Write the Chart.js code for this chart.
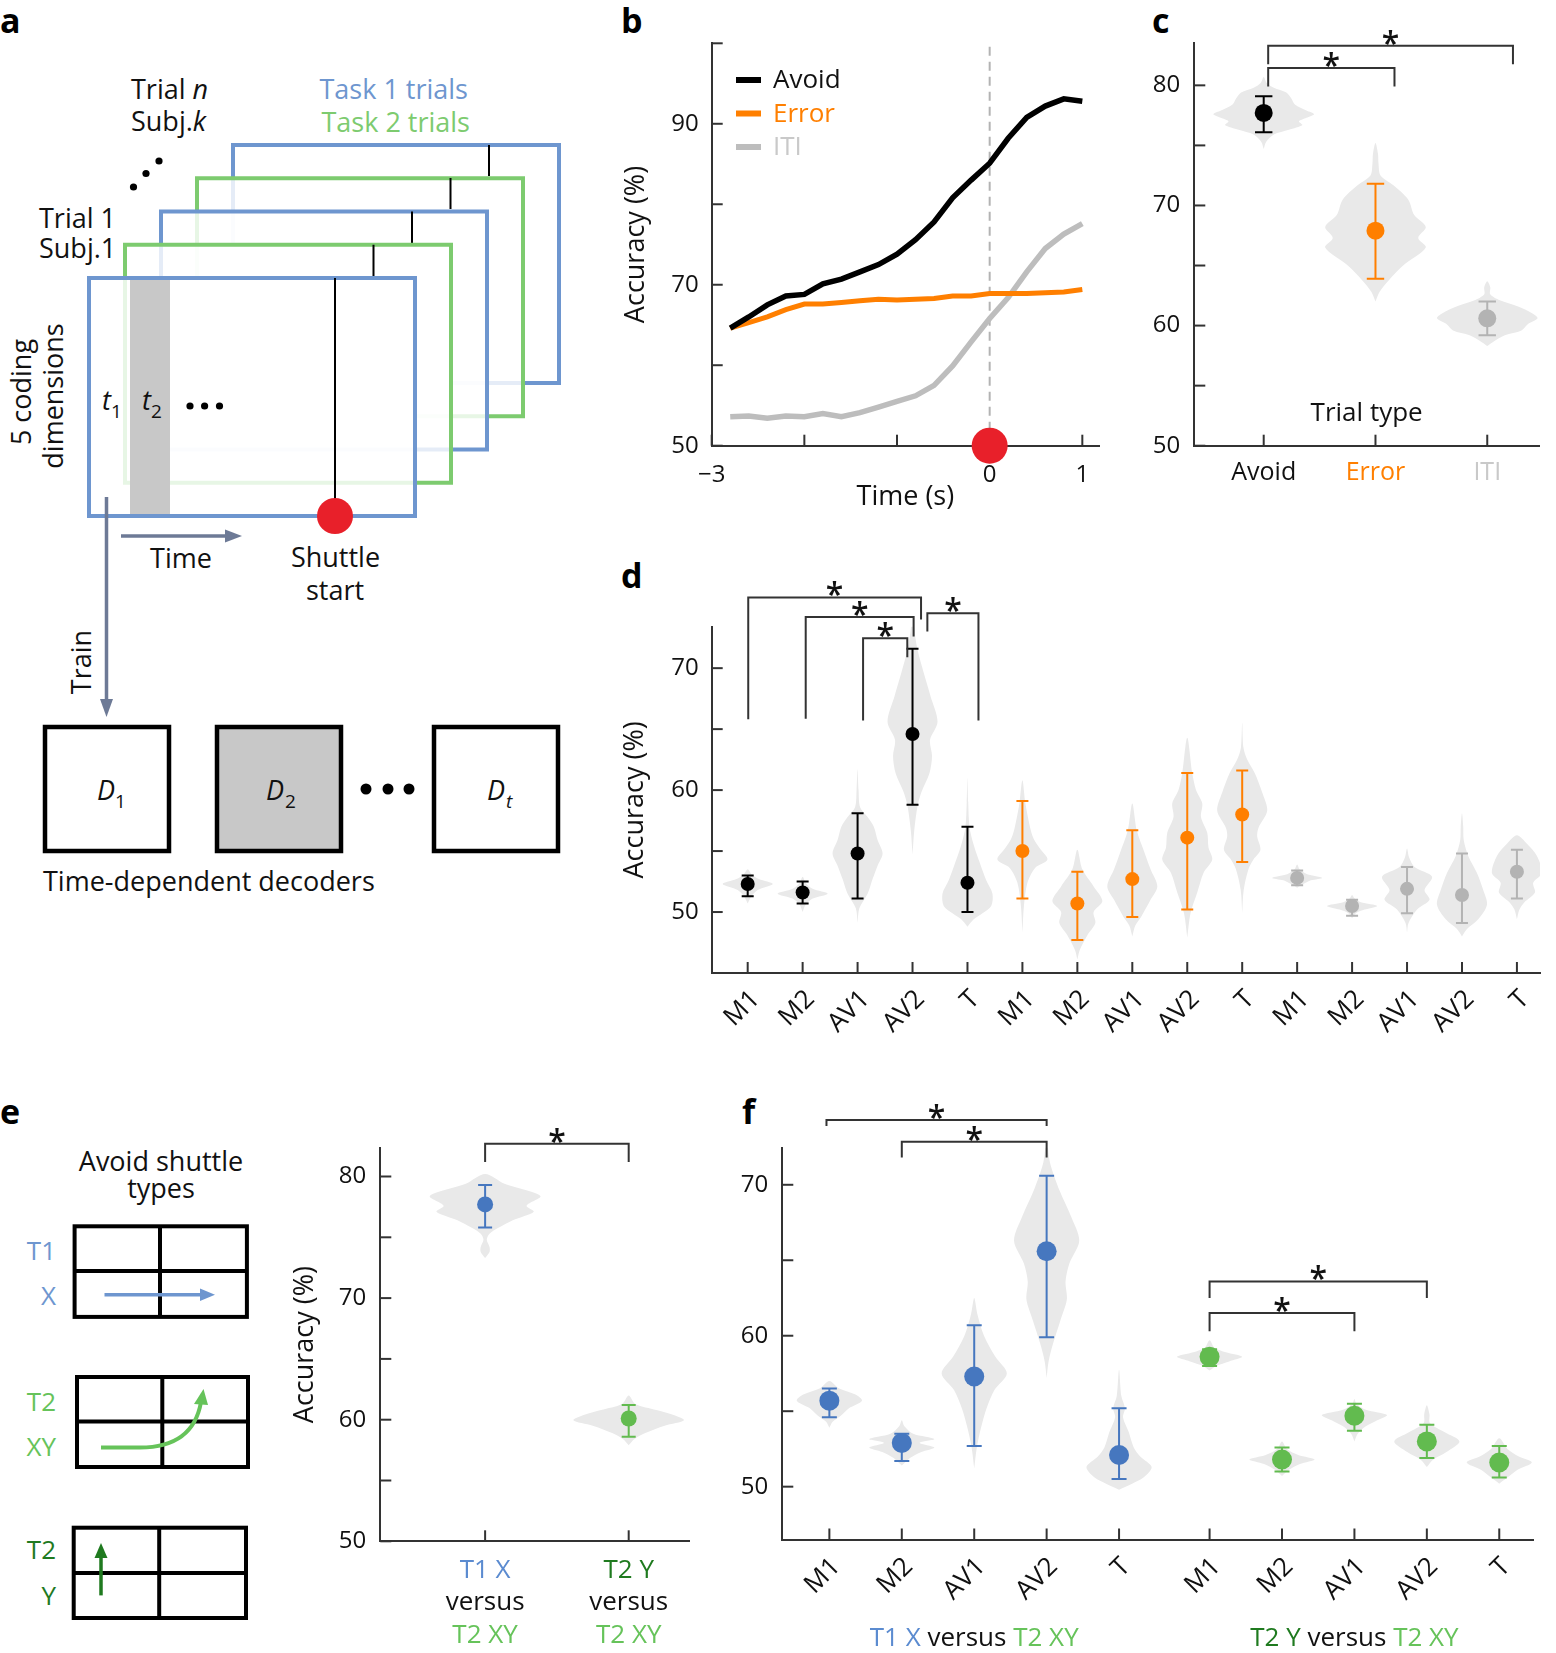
<!DOCTYPE html>
<html><head><meta charset="utf-8">
<script src="https://cdn.jsdelivr.net/npm/chart.js@4"></script>
<style>
html,body{margin:0;padding:0;background:#fff;}
#page{position:relative;width:1556px;height:1653px;overflow:hidden;background:#fff;}
canvas{position:absolute;}
#diag{position:absolute;left:0;top:0;font-family:'Open Sans',sans-serif;}
</style></head>
<body><div id="page">
<svg id="diag" width="1556" height="1653" xmlns="http://www.w3.org/2000/svg">
 <g font-weight="bold" font-size="34" fill="#000">
  <text x="0" y="33">a</text><text x="621" y="33">b</text><text x="1152" y="33">c</text>
  <text x="621" y="588">d</text><text x="0" y="1124">e</text><text x="742" y="1124">f</text>
 </g>
 <!-- panel a frames, back to front -->
 <g stroke-width="4" fill="rgba(255,255,255,0.82)">
  <rect x="233" y="145" width="326" height="238" stroke="#6e96cf"/>
  <line x1="489" y1="145" x2="489" y2="176" stroke="#000" stroke-width="2"/>
  <rect x="197" y="178.25" width="326" height="238" stroke="#7dcb6f"/>
  <line x1="450.5" y1="178" x2="450.5" y2="209" stroke="#000" stroke-width="2"/>
  <rect x="161" y="211.5" width="326" height="238" stroke="#6e96cf"/>
  <line x1="412" y1="211.5" x2="412" y2="243" stroke="#000" stroke-width="2"/>
  <rect x="125" y="244.75" width="326" height="238" stroke="#7dcb6f"/>
  <line x1="373.5" y1="244.75" x2="373.5" y2="276" stroke="#000" stroke-width="2"/>
  <rect x="89" y="278" width="326" height="238" stroke="#6e96cf"/>
 </g>
 <rect x="130" y="280" width="40" height="234" fill="#c8c8c8"/>
 <line x1="335" y1="278" x2="335" y2="516" stroke="#000" stroke-width="2"/>
 <circle cx="335" cy="516" r="18" fill="#e8202a"/>
 <g font-size="27" fill="#111">
  <text x="102" y="410" font-style="italic">t</text><text x="111" y="418" font-size="19">1</text>
  <text x="142" y="410" font-style="italic">t</text><text x="151" y="418" font-size="19">2</text>
  <text x="131" y="99">Trial <tspan font-style="italic">n</tspan></text>
  <text x="131" y="131">Subj.<tspan font-style="italic">k</tspan></text>
  <text x="39" y="228">Trial 1</text>
  <text x="39" y="258">Subj.1</text>
  <text x="468" y="99" text-anchor="end" fill="#6e96cf">Task 1 trials</text>
  <text x="470" y="132" text-anchor="end" fill="#7dcb6f">Task 2 trials</text>
  <text transform="translate(31,392) rotate(-90)" text-anchor="middle">5 coding</text>
  <text transform="translate(63,396) rotate(-90)" text-anchor="middle">dimensions</text>
  <text transform="translate(91,662) rotate(-90)" text-anchor="middle">Train</text>
  <text x="181" y="568" text-anchor="middle">Time</text>
  <text x="335.5" y="567" text-anchor="middle">Shuttle</text>
  <text x="335" y="600" text-anchor="middle">start</text>
  <text x="43" y="891">Time-dependent decoders</text>
 </g>
 <g fill="#000">
  <circle cx="133.5" cy="187" r="3.6"/><circle cx="146" cy="173.5" r="3.6"/><circle cx="159" cy="161" r="3.6"/>
  <circle cx="190" cy="406" r="3.6"/><circle cx="204.6" cy="406" r="3.6"/><circle cx="219.5" cy="406" r="3.6"/>
  <circle cx="366" cy="789" r="5.5"/><circle cx="388" cy="789" r="5.5"/><circle cx="409" cy="789" r="5.5"/>
 </g>
 <!-- arrows -->
 <line x1="106.5" y1="497" x2="106.5" y2="703" stroke="#6d7a96" stroke-width="3.5"/>
 <polygon points="106.5,717 100,699 113,699" fill="#6d7a96"/>
 <line x1="121" y1="536" x2="228" y2="536" stroke="#6d7a96" stroke-width="3.5"/>
 <polygon points="242,536 225,529.5 225,542.5" fill="#6d7a96"/>
 <!-- decoders -->
 <g stroke="#000" stroke-width="4.5">
  <rect x="45" y="727" width="124" height="124" fill="#fff"/>
  <rect x="217" y="727" width="124" height="124" fill="#c8c8c8"/>
  <rect x="434" y="727" width="124" height="124" fill="#fff"/>
 </g>
 <g font-size="27" fill="#111" font-style="italic">
  <text x="97" y="800">D</text><text x="115" y="808" font-size="19" font-style="normal">1</text>
  <text x="266" y="800">D</text><text x="285" y="808" font-size="19" font-style="normal">2</text>
  <text x="487" y="800">D</text><text x="506" y="808" font-size="19">t</text>
 </g>
 <!-- panel e diagram -->
 <g font-size="27" fill="#111" text-anchor="middle">
  <text x="161" y="1171">Avoid shuttle</text>
  <text x="161" y="1198">types</text>
 </g>
 <g stroke="#000" stroke-width="4" fill="none">
  <rect x="74.6" y="1226.3" width="172.3" height="90.6"/>
  <line x1="160" y1="1226.3" x2="160" y2="1316.9"/><line x1="74.6" y1="1271" x2="246.9" y2="1271"/>
  <rect x="77" y="1377" width="171" height="90"/>
  <line x1="162.3" y1="1377" x2="162.3" y2="1467"/><line x1="77" y1="1421.4" x2="248" y2="1421.4"/>
  <rect x="73.7" y="1527.7" width="172.3" height="90.3"/>
  <line x1="159.2" y1="1527.7" x2="159.2" y2="1618"/><line x1="73.7" y1="1573" x2="246" y2="1573"/>
 </g>
 <g font-size="26" text-anchor="end">
  <text x="56" y="1260" fill="#6e96cf">T1</text><text x="56" y="1305" fill="#6e96cf">X</text>
  <text x="56" y="1411" fill="#66c35a">T2</text><text x="56" y="1456" fill="#66c35a">XY</text>
  <text x="56" y="1559" fill="#1f7a1f">T2</text><text x="56" y="1605" fill="#1f7a1f">Y</text>
 </g>
 <line x1="104.5" y1="1294.7" x2="202" y2="1294.7" stroke="#6e96cf" stroke-width="3.5"/>
 <polygon points="215,1294.7 200,1288.5 200,1301" fill="#6e96cf"/>
 <path d="M101,1447.5 L140,1447.5 Q193,1447.5 201,1402" stroke="#66c35a" stroke-width="4" fill="none"/>
 <polygon points="203.5,1389 194,1404 208,1405" fill="#66c35a"/>
 <line x1="101" y1="1595.4" x2="101" y2="1556" stroke="#1f7a1f" stroke-width="3.5"/>
 <polygon points="101,1543 94.5,1558 107.5,1558" fill="#1f7a1f"/>
</svg>
<canvas id="cb"></canvas><canvas id="cc"></canvas><canvas id="cd"></canvas><canvas id="ce"></canvas><canvas id="cf"></canvas>
</div>
<script>
// ================= DATA =================
// panel b: decoding accuracy over time
const bTime  = [-2.8,-2.6,-2.4,-2.2,-2.0,-1.8,-1.6,-1.4,-1.2,-1.0,-0.8,-0.6,-0.4,-0.2,0,0.2,0.4,0.6,0.8,1.0];
const bAvoid = [64.6,66.0,67.5,68.6,68.8,70.1,70.7,71.6,72.5,73.8,75.6,77.8,80.8,83.0,85.1,88.2,90.8,92.2,93.1,92.8];
const bError = [64.6,65.3,66.0,66.9,67.6,67.6,67.8,68.0,68.2,68.1,68.2,68.3,68.6,68.6,68.9,68.9,68.9,69.0,69.1,69.4];
const bITI   = [53.6,53.7,53.4,53.7,53.6,54.0,53.6,54.1,54.8,55.5,56.2,57.5,59.9,62.9,65.8,68.4,71.6,74.5,76.3,77.6];
const bYTicks = [50,60,70,80,90,100];
const bYLabels = ['50','','70','','90',''];
const bXTicks = [-3,-2,-1,0,1];
const bXLabels = ['\u22123','','','0','1'];

// panel c
const cCats = ['Avoid','Error','ITI'];
const cMean = [77.7,67.9,60.6];
const cLo   = [76.1,63.9,59.2];
const cHi   = [79.1,71.8,62.0];
const cViolin = [
 [[74.7,0],[75.3,0.05],[75.9,0.2],[76.3,0.5],[76.7,0.77],[77.0,0.7],[77.3,0.85],[77.6,1.0],[77.9,0.85],[78.4,0.62],[78.9,0.55],[79.4,0.45],[79.8,0.2],[80.2,0.06],[80.7,0]],
 [[62.0,0],[62.8,0.08],[63.8,0.27],[65.0,0.55],[66.5,1.0],[67.3,0.85],[68.2,1.0],[69.2,0.77],[70.5,0.65],[71.7,0.35],[72.5,0.1],[73.5,0.06],[74.3,0.05],[75.2,0]],
 [[58.3,0],[58.6,0.1],[59.2,0.35],[59.6,0.68],[60.1,0.8],[60.6,1.0],[61.0,0.9],[61.6,0.6],[62.1,0.25],[62.6,0.06],[63.2,0.06],[63.7,0]]
];
const cYTicks = [50,55,60,65,70,75,80];
const cYLabels = ['50','','60','','70','','80'];
// brackets: [xLeft, xRight, yBar, yLegLeft, yLegRight]
const cBrackets = [[0.04,1.17,81.45,79.9,79.9],[0.04,2.23,83.3,81.75,81.75]];

// panel d
const dCats = ['M1','M2','AV1','AV2','T','M1','M2','AV1','AV2','T','M1','M2','AV1','AV2','T'];
const dMean = [52.3,51.6,54.8,64.6,52.4, 55.0,50.7,52.7,56.1,58.0, 52.8,50.5,51.9,51.4,53.3];
const dLo   = [51.3,50.7,51.1,58.8,50.0, 51.1,47.7,49.6,50.2,54.1, 52.2,49.7,49.9,49.1,51.1];
const dHi   = [53.0,52.5,58.1,71.6,57.0, 59.1,53.3,56.7,61.4,61.6, 53.4,51.0,53.7,54.8,55.1];
const dViolin = [
 [[50.7,0],[51.2,0.12],[51.8,0.4],[52.3,1.0],[52.7,0.45],[53.1,0.15],[53.5,0]],
 [[50.0,0],[50.6,0.12],[51.1,0.4],[51.5,1.0],[51.9,0.4],[52.4,0.12],[52.9,0]],
 [[49.1,0],[50.3,0.07],[51.5,0.4],[52.7,0.6],[53.8,0.8],[54.8,1.0],[55.9,0.8],[57.0,0.65],[57.8,0.4],[58.6,0.1],[60.0,0.04],[61.7,0]],
 [[54.7,0],[56.7,0.07],[58.7,0.2],[59.8,0.35],[61.4,0.68],[62.8,0.78],[64.1,0.7],[65.6,1.0],[67.7,0.72],[69.6,0.45],[71.5,0.2],[73.5,0.05],[75.0,0]],
 [[48.8,0],[49.4,0.25],[49.9,0.6],[50.5,0.95],[51.5,1.0],[52.6,0.75],[54.0,0.5],[55.5,0.25],[57.0,0.08],[59.0,0.03],[61.0,0]],
 [[48.3,0],[50.5,0.06],[52.4,0.2],[53.6,0.5],[54.3,1.0],[55.2,0.7],[56.0,0.45],[57.0,0.3],[58.9,0.12],[60.8,0]],
 [[46.1,0],[46.9,0.1],[48.1,0.4],[49.1,0.72],[50.0,0.65],[50.9,1.0],[52.1,0.65],[53.5,0.2],[55.1,0]],
 [[48.0,0],[48.9,0.12],[49.6,0.35],[51.0,0.73],[52.1,1.0],[53.5,0.73],[54.8,0.5],[56.7,0.18],[58.9,0]],
 [[47.9,0],[49.9,0.13],[51.6,0.4],[53.2,0.65],[54.3,1.0],[55.3,0.85],[56.5,0.8],[57.8,0.55],[58.9,0.6],[60.0,0.35],[61.4,0.2],[64.3,0]],
 [[49.9,0],[51.8,0.06],[53.5,0.25],[54.3,0.45],[55.1,0.73],[56.2,0.6],[56.9,0.65],[58.3,1.0],[59.8,0.8],[61.4,0.5],[62.5,0.2],[63.5,0.05],[65.5,0]],
 [[52.0,0],[52.3,0.25],[52.6,0.55],[52.8,1.0],[53.1,0.4],[53.5,0.1],[53.9,0]],
 [[49.5,0],[49.9,0.15],[50.2,0.5],[50.5,1.0],[50.8,0.35],[51.1,0.1],[51.4,0]],
 [[48.3,0],[49.1,0.06],[50.2,0.4],[51.0,0.9],[51.8,0.7],[52.9,1.0],[53.7,0.3],[54.5,0.08],[55.2,0]],
 [[48.0,0],[48.6,0.2],[49.4,0.65],[50.6,1.0],[51.8,0.85],[53.2,0.6],[54.6,0.25],[55.9,0.07],[57.0,0.05],[58.1,0]],
 [[49.4,0],[50.2,0.1],[50.8,0.3],[51.6,0.72],[52.4,0.65],[53.2,1.0],[54.6,0.8],[55.6,0.4],[56.3,0]]
];
const dYTicks = [50,55,60,65,70];
const dYLabels = ['50','','60','','70'];
const dBrackets = [[0.01,3.155,75.8,65.8,74.0],[1.056,3.02,74.2,65.85,72.6],[2.1,2.905,72.45,65.7,70.9],[3.27,4.2,74.5,73.0,65.7]];

// panel e
const eMean = [77.7,60.1];
const eLo   = [75.8,58.6];
const eHi   = [79.3,61.2];
const eViolin = [
 [[73.3,0],[73.8,0.08],[74.2,0.08],[74.8,0.03],[75.3,0.08],[75.8,0.25],[76.4,0.5],[77.1,0.88],[77.6,0.75],[78.4,1.0],[79.4,0.35],[80.2,0]],
 [[57.9,0],[58.4,0.1],[58.9,0.3],[59.5,0.65],[59.95,1.0],[60.4,0.8],[60.8,0.5],[61.3,0.12],[62.0,0]]
];
const eYTicks = [50,55,60,65,70,75,80];
const eYLabels = ['50','','60','','70','','80'];
const eBrackets = [[0,1,82.7,81.2,81.2]];

// panel f
const fCats = ['M1','M2','AV1','AV2','T','M1','M2','AV1','AV2','T'];
const fMean = [55.7,52.9,57.3,65.6,52.1, 58.6,51.8,54.7,53.0,51.6];
const fLo   = [54.6,51.7,52.7,59.9,50.5, 58.0,51.0,53.7,51.9,50.6];
const fHi   = [56.5,53.5,60.7,70.6,55.2, 59.1,52.6,55.5,54.1,52.7];
const fViolin = [
 [[53.9,0],[54.3,0.1],[54.7,0.35],[55.2,0.6],[55.7,1.0],[56.1,0.8],[56.5,0.3],[57.0,0]],
 [[51.4,0],[51.9,0.25],[52.3,0.6],[52.6,1.0],[52.9,0.55],[53.15,1.0],[53.5,0.35],[54.0,0.08],[54.4,0]],
 [[51.2,0],[52.6,0.08],[54.0,0.22],[55.2,0.38],[56.4,0.62],[57.5,1.0],[58.6,0.65],[60.0,0.3],[61.4,0.1],[62.5,0]],
 [[57.2,0],[58.3,0.06],[59.5,0.2],[61.0,0.42],[62.4,0.62],[63.6,0.58],[64.8,0.7],[66.3,1.0],[67.9,0.75],[69.6,0.4],[71.5,0.1],[73.1,0]],
 [[49.8,0],[50.2,0.4],[50.6,0.75],[51.3,1.0],[52.0,0.65],[52.6,0.45],[53.6,0.3],[54.6,0.12],[55.2,0.18],[56.0,0.07],[57.75,0]],
 [[57.7,0],[58.0,0.2],[58.3,0.6],[58.6,1.0],[58.9,0.5],[59.2,0.15],[59.7,0]],
 [[50.7,0],[51.1,0.2],[51.5,0.55],[51.8,1.0],[52.1,0.5],[52.5,0.15],[53.0,0]],
 [[53.0,0],[53.5,0.1],[54.0,0.35],[54.4,0.7],[54.75,1.0],[55.1,0.35],[55.5,0.06],[55.8,0]],
 [[51.3,0],[51.8,0.2],[52.3,0.6],[53.0,1.0],[53.6,0.55],[54.2,0.1],[54.8,0.08],[55.4,0]],
 [[50.2,0],[50.6,0.25],[51.1,0.55],[51.6,1.0],[52.0,0.6],[52.5,0.25],[53.2,0]]
];
const fYTicks = [50,55,60,65,70];
const fYLabels = ['50','','60','','70'];
const fBrackets = [[-0.04,3.0,74.3,73.9,73.9],[1.0,3.0,72.85,71.8,71.8],[5.25,8.25,63.6,62.5,62.5],[5.25,7.25,61.5,60.3,60.3]];

// ================= STYLE =================
const FONT = "'Open Sans', sans-serif";
const INK = '#111', AXIS = '#333';
const ORANGE = '#ff7f00', GRAYDOT = '#b3b3b3', GRAYTXT = '#c9c9c9', VIOLIN = '#e9e9e9';
const BLUE = '#4677bf', BLUETXT = '#5b8bd0', LGREEN = '#62bb4f', LGREENTXT = '#66c35a', DGREEN = '#1f7a1f';
const GROUP_GAP = 0.25;
Chart.defaults.font.family = FONT;
Chart.defaults.color = INK;

function place(id, left, top, right, bottom) {
  const c = document.getElementById(id);
  const w = right - left, h = bottom - top;
  c.width = w; c.height = h;
  Object.assign(c.style, {left: left + 'px', top: top + 'px', width: w + 'px', height: h + 'px'});
  return c;
}

// violin outline (right side up, left side down) in data units
function violinPoints(center, knots, maxW) {
  const right = knots.map(([y, w]) => ({x: center + w * maxW, y}));
  const left = knots.slice().reverse().map(([y, w]) => ({x: center - w * maxW, y}));
  return right.concat(left.slice(1));
}
function violinDS(center, knots, maxW) {
  return {type: 'line', data: violinPoints(center, knots, maxW), borderWidth: 0, borderColor: 'rgba(0,0,0,0)',
    backgroundColor: VIOLIN, fill: 'shape', pointRadius: 0, tension: 0.3, clip: false, order: 3};
}
function meansDS(xs, ys, colors, r) {
  return {type: 'scatter', data: xs.map((x, i) => ({x, y: ys[i]})), backgroundColor: colors, pointBackgroundColor: colors,
    pointBorderWidth: 0, pointRadius: r, pointHoverRadius: r, clip: false, order: 1};
}

// ================= PLUGINS =================
const tickMarks = {
  id: 'tickMarks',
  beforeDatasetsDraw(chart) {
    const {ctx, chartArea: a, scales: {x, y}} = chart;
    ctx.save(); ctx.strokeStyle = AXIS; ctx.lineWidth = 2;
    x.ticks.forEach(t => { const p = x.getPixelForValue(t.value); ctx.beginPath(); ctx.moveTo(p, a.bottom); ctx.lineTo(p, a.bottom - 11); ctx.stroke(); });
    y.ticks.forEach(t => { const p = y.getPixelForValue(t.value); ctx.beginPath(); ctx.moveTo(a.left, p); ctx.lineTo(a.left + 11, p); ctx.stroke(); });
    ctx.restore();
  }
};
const errorBars = {
  id: 'errorBars',
  beforeDatasetDraw(chart, args, o) {
    if (!o || o.index === undefined || args.index !== o.index) return;
    const {ctx, scales: {x, y}} = chart;
    ctx.save(); ctx.lineWidth = o.width;
    o.xs.forEach((xv, i) => {
      const px = x.getPixelForValue(xv), p1 = y.getPixelForValue(o.lo[i]), p2 = y.getPixelForValue(o.hi[i]);
      ctx.strokeStyle = o.colors[i];
      ctx.beginPath();
      ctx.moveTo(px, p1); ctx.lineTo(px, p2);
      ctx.moveTo(px - o.cap, p1); ctx.lineTo(px + o.cap, p1);
      ctx.moveTo(px - o.cap, p2); ctx.lineTo(px + o.cap, p2);
      ctx.stroke();
    });
    ctx.restore();
  }
};
const brackets = {
  id: 'brackets',
  afterDraw(chart, args, o) {
    if (!o || !o.list) return;
    const {ctx, scales: {x, y}} = chart;
    ctx.save(); ctx.strokeStyle = AXIS; ctx.lineWidth = 2; ctx.fillStyle = INK;
    ctx.font = `600 32px ${FONT}`; ctx.textAlign = 'center'; ctx.textBaseline = 'alphabetic';
    o.list.forEach(([x1, x2, yb, yl, yr]) => {
      const px1 = x.getPixelForValue(x1), px2 = x.getPixelForValue(x2), pb = y.getPixelForValue(yb);
      ctx.beginPath();
      ctx.moveTo(px1, y.getPixelForValue(yl)); ctx.lineTo(px1, pb); ctx.lineTo(px2, pb); ctx.lineTo(px2, y.getPixelForValue(yr));
      ctx.stroke();
      ctx.fillText('*', (px1 + px2) / 2, pb + 9);
    });
    ctx.restore();
  }
};
const richLabels = {
  id: 'richLabels',
  afterDraw(chart, args, o) {
    if (!o || !o.items) return;
    const {ctx, chartArea: a, scales: {x}} = chart;
    ctx.save(); ctx.font = `${o.size}px ${FONT}`; ctx.textBaseline = 'middle'; ctx.textAlign = 'left';
    o.items.forEach(it => {
      const cx = x.getPixelForValue(it.x), cy = a.bottom + it.dy;
      const w = it.parts.reduce((s, [t]) => s + ctx.measureText(t).width, 0);
      let px = cx - w / 2;
      it.parts.forEach(([t, c]) => { ctx.fillStyle = c; ctx.fillText(t, px, cy); px += ctx.measureText(t).width; });
    });
    ctx.restore();
  }
};
const lineLegend = {
  id: 'lineLegend',
  afterDraw(chart, args, o) {
    if (!o || !o.labels) return;
    const {ctx, chartArea: a} = chart;
    ctx.save(); ctx.font = `${o.size}px ${FONT}`; ctx.textBaseline = 'middle'; ctx.textAlign = 'left';
    o.labels.forEach((lab, i) => {
      const ds = chart.data.datasets.find(d => d.label === lab);
      const x = a.left + o.left, y = a.top + o.top + i * o.gap;
      ctx.strokeStyle = ds.borderColor; ctx.lineWidth = 6; ctx.lineCap = 'butt';
      ctx.beginPath(); ctx.moveTo(x, y); ctx.lineTo(x + 25, y); ctx.stroke();
      ctx.fillStyle = o.textColors[i]; ctx.fillText(lab, x + 37, y + 1);
    });
    ctx.restore();
  }
};
const PLUGINS = [tickMarks, errorBars, brackets, richLabels, lineLegend];

function yAxis(min, max, ticks, labels, width, pad, title) {
  return {type: 'linear', min, max, bounds: 'data',
    afterBuildTicks: s => { s.ticks = ticks.map(v => ({value: v})); },
    afterFit: s => { s.width = width; },
    ticks: {callback: (v, i) => labels[i], padding: pad, font: {size: 24}, color: INK, autoSkip: false},
    grid: {drawOnChartArea: false, drawTicks: false},
    border: {color: AXIS, width: 2},
    title: title ? {display: true, text: title, font: {size: 27}, color: INK, padding: {top: 4, bottom: 0}} : {display: false}};
}
function xAxis(min, max, ticks, labels, height, tickOpts, title) {
  return {type: 'linear', min, max, bounds: 'data',
    afterBuildTicks: s => { s.ticks = ticks.map(v => ({value: v})); },
    afterFit: s => { s.height = height; },
    ticks: Object.assign({callback: (v, i) => labels[i], font: {size: 24}, color: INK, autoSkip: false, maxRotation: 0, minRotation: 0}, tickOpts),
    grid: {drawOnChartArea: false, drawTicks: false},
    border: {color: AXIS, width: 2},
    title: title || {display: false}};
}
function baseOptions(pad, scales, plugins) {
  return {responsive: false, animation: false, devicePixelRatio: 1, events: [],
    layout: {padding: pad, autoPadding: false},
    elements: {line: {capBezierPoints: false}},
    scales,
    plugins: Object.assign({legend: {display: false}, tooltip: {enabled: false}}, plugins)};
}

// ================= PANEL b =================
(function () {
  const canvas = place('cb', 616, 0, 1109, 520);
  const A = {L: 711.7, R: 1099, T: 43.3, B: 445.7};
  const datasets = [
    {label: 'zero', data: [{x: 0, y: 50}, {x: 0, y: 100}], borderColor: '#b3b3b3', borderWidth: 2, borderDash: [9, 6], pointRadius: 0, order: 5},
    {label: 'ITI', data: bTime.map((t, i) => ({x: t, y: bITI[i]})), borderColor: '#bdbdbd', borderWidth: 5.5, pointRadius: 0, order: 4},
    {label: 'Error', data: bTime.map((t, i) => ({x: t, y: bError[i]})), borderColor: ORANGE, borderWidth: 5, pointRadius: 0, order: 3},
    {label: 'Avoid', data: bTime.map((t, i) => ({x: t, y: bAvoid[i]})), borderColor: '#000', borderWidth: 5.5, pointRadius: 0, order: 2},
    {label: 'shuttle', type: 'scatter', data: [{x: 0, y: 50}], pointBackgroundColor: '#e8202a', backgroundColor: '#e8202a', pointBorderWidth: 0, pointRadius: 18, clip: false, order: 1}
  ];
  new Chart(canvas, {type: 'line', data: {datasets}, plugins: PLUGINS,
    options: baseOptions({left: 0, top: A.T, right: 1109 - A.R, bottom: 0}, {
      x: xAxis(-3, 1.18, bXTicks, bXLabels, 520 - A.B, {padding: 15},
        {display: true, text: 'Time (s)', font: {size: 27}, color: INK, padding: {top: 0, bottom: 6}}),
      y: yAxis(50, 100, bYTicks, bYLabels, A.L - 616, 13, 'Accuracy (%)')
    }, {lineLegend: {labels: ['Avoid', 'Error', 'ITI'], textColors: [INK, ORANGE, GRAYTXT], left: 24.3, top: 36.7, gap: 33.5, size: 26}})
  });
})();

// ================= PANEL c =================
(function () {
  const canvas = place('cc', 1130, 0, 1552, 500);
  const A = {L: 1194.3, R: 1539, T: 43.3, B: 445.7};
  const colors = ['#000', ORANGE, GRAYDOT];
  const xs = cCats.map((_, i) => i);
  const datasets = cViolin.map((k, i) => violinDS(i, k, 0.45));
  datasets.push(meansDS(xs, cMean, colors, 9));
  const labelColors = [INK, ORANGE, GRAYTXT];
  new Chart(canvas, {type: 'scatter', data: {datasets}, plugins: PLUGINS,
    options: baseOptions({left: 0, top: A.T, right: 1552 - A.R, bottom: 0}, {
      x: xAxis(-0.621, 2.463, xs, cCats, 500 - A.B, {padding: 12, font: {size: 25}, color: c => labelColors[c.index]},
        {display: true, text: 'Trial type', font: {size: 26}, color: INK, padding: {top: 0, bottom: 71}}),
      y: yAxis(50, 83.5, cYTicks, cYLabels, A.L - 1130, 14, null)
    }, {errorBars: {index: datasets.length - 1, xs, lo: cLo, hi: cHi, colors, cap: 8.7, width: 2},
        brackets: {list: cBrackets}})
  });
})();

// ================= PANEL d =================
(function () {
  const canvas = place('cd', 615, 540, 1552, 1060);
  const A = {L: 711.7, R: 1540, T: 626.7, B: 973};
  const palette = ['#000', ORANGE, GRAYDOT];
  const colors = dCats.map((_, i) => palette[Math.floor(i / 5)]);
  const xs = dCats.map((_, i) => i);
  const datasets = dViolin.map((k, i) => violinDS(i, k, 0.455));
  datasets.push(meansDS(xs, dMean, colors, 7));
  new Chart(canvas, {type: 'scatter', data: {datasets}, plugins: PLUGINS,
    options: baseOptions({left: 0, top: A.T - 540, right: 1552 - A.R, bottom: 0}, {
      x: xAxis(-0.655, 14.42, xs, dCats, 1060 - A.B, {padding: 11, labelOffset: 8, maxRotation: 45, minRotation: 45, font: {size: 26}}),
      y: yAxis(45, 73.4, dYTicks, dYLabels, A.L - 615, 13, 'Accuracy (%)')
    }, {errorBars: {index: datasets.length - 1, xs, lo: dLo, hi: dHi, colors, cap: 6, width: 2},
        brackets: {list: dBrackets}})
  });
})();

// ================= PANEL e =================
(function () {
  const canvas = place('ce', 285, 1090, 700, 1653);
  const A = {L: 380.3, R: 689, T: 1147.8, B: 1541.3};
  const colors = [BLUE, LGREEN];
  const xs = [0, 1];
  const datasets = eViolin.map((k, i) => violinDS(i, k, 0.385));
  datasets.push(meansDS(xs, eMean, colors, 8));
  new Chart(canvas, {type: 'scatter', data: {datasets}, plugins: PLUGINS,
    options: baseOptions({left: 0, top: A.T - 1090, right: 700 - A.R, bottom: 0}, {
      x: xAxis(-0.73, 1.42, xs, ['', ''], 1653 - A.B, {display: false}),
      y: yAxis(50, 82.36, eYTicks, eYLabels, A.L - 285, 14, 'Accuracy (%)')
    }, {errorBars: {index: datasets.length - 1, xs, lo: eLo, hi: eHi, colors, cap: 7, width: 2},
        brackets: {list: eBrackets},
        richLabels: {size: 26, items: [
          {x: 0, dy: 29, parts: [['T1 X', BLUETXT]]}, {x: 0, dy: 61.5, parts: [['versus', INK]]}, {x: 0, dy: 94, parts: [['T2 XY', LGREENTXT]]},
          {x: 1, dy: 29, parts: [['T2 Y', DGREEN]]}, {x: 1, dy: 61.5, parts: [['versus', INK]]}, {x: 1, dy: 94, parts: [['T2 XY', LGREENTXT]]}
        ]}})
  });
})();

// ================= PANEL f =================
(function () {
  const canvas = place('cf', 720, 1090, 1552, 1653);
  const A = {L: 782.3, R: 1533.3, T: 1147.8, B: 1539.5};
  const xs = fCats.map((_, i) => (i < 5 ? i : i + GROUP_GAP));
  const colors = fCats.map((_, i) => (i < 5 ? BLUE : LGREEN));
  const datasets = fViolin.map((k, i) => violinDS(xs[i], k, 0.45));
  datasets.push(meansDS(xs, fMean, colors, 10));
  const g1 = (xs[0] + xs[4]) / 2, g2 = (xs[5] + xs[9]) / 2;
  new Chart(canvas, {type: 'scatter', data: {datasets}, plugins: PLUGINS,
    options: baseOptions({left: 0, top: A.T - 1090, right: 1552 - A.R, bottom: 0}, {
      x: xAxis(-0.65, 9.72, xs, fCats, 1653 - A.B, {padding: 12, labelOffset: 7, maxRotation: 45, minRotation: 45, font: {size: 26}}),
      y: yAxis(46.5, 72.45, fYTicks, fYLabels, A.L - 720, 14, null)
    }, {errorBars: {index: datasets.length - 1, xs, lo: fLo, hi: fHi, colors, cap: 7.5, width: 2},
        brackets: {list: fBrackets},
        richLabels: {size: 26, items: [
          {x: g1, dy: 99, parts: [['T1 X', BLUETXT], [' versus ', INK], ['T2 XY', LGREENTXT]]},
          {x: g2, dy: 99, parts: [['T2 Y', DGREEN], [' versus ', INK], ['T2 XY', LGREENTXT]]}
        ]}})
  });
})();
</script>
</body></html>
